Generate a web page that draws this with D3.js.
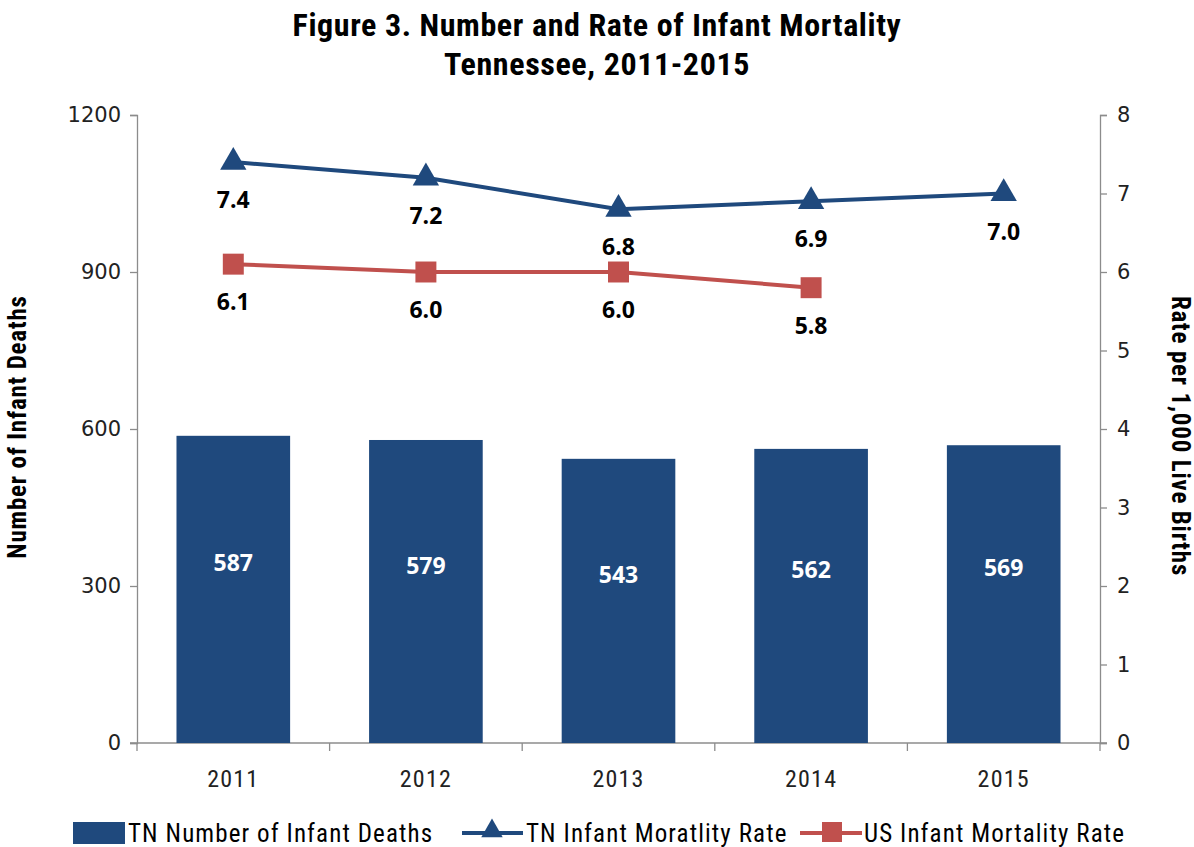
<!DOCTYPE html>
<html lang="en">
<head>
<meta charset="UTF-8">
<title>Infant Mortality</title>
<script src="https://d3js.org/d3.v7.min.js"></script>
<style>
  body { margin: 0; background: #fff; }
  .narrow { font-family: "Liberation Sans Narrow", "Arial Narrow", "Roboto Condensed", "Open Sans", sans-serif; }
  .axis text { font-family: "DejaVu Sans", Verdana, sans-serif; font-size: 21px; fill: #222; }
  .axis path, .axis line { stroke: #8c8c8c; stroke-width: 1.3px; }
</style>
</head>
<body>
<script>
var years = ["2011", "2012", "2013", "2014", "2015"];
var tnDeaths = [587, 579, 543, 562, 569];
var tnRate = [7.4, 7.2, 6.8, 6.9, 7.0];
var usRate = [6.1, 6.0, 6.0, 5.8];
var leftTicks = [0, 300, 600, 900, 1200];
var rightTicks = [0, 1, 2, 3, 4, 5, 6, 7, 8];

var W = 1194, H = 847;
var margin = {top: 115, left: 137, right: 94, bottom: 104};
var width = W - margin.left - margin.right;
var height = H - margin.top - margin.bottom;

var blue = "#1f497d", red = "#c0504d";

var svg = d3.select("body").append("svg")
    .attr("width", W).attr("height", H);

// title
svg.append("text").attr("class", "narrow")
    .attr("x", 597).attr("y", 36).attr("text-anchor", "middle")
    .style("font-size", "32px").style("font-weight", "bold").style("letter-spacing", "0.6px")
    .text("Figure 3. Number and Rate of Infant Mortality");
svg.append("text").attr("class", "narrow")
    .attr("x", 597).attr("y", 75).attr("text-anchor", "middle")
    .style("font-size", "32px").style("font-weight", "bold").style("letter-spacing", "0.6px")
    .text("Tennessee, 2011-2015");

var chart = svg.append("g")
    .attr("transform", "translate(" + margin.left + "," + margin.top + ")");

var x = d3.scaleBand().domain(years).range([0, width]).paddingInner(0.41).paddingOuter(0.205);
var xb = d3.scaleBand().domain(years).range([0, width]);
var yL = d3.scaleLinear().domain([0, 1200]).range([height, 0]);
var yR = d3.scaleLinear().domain([0, 8]).range([height, 0]);

// axes
chart.append("g").attr("class", "axis")
    .call(d3.axisLeft(yL).tickValues(leftTicks).tickFormat(d3.format("d"))
        .tickSize(7).tickPadding(9).tickSizeOuter(7));
chart.append("g").attr("class", "axis")
    .attr("transform", "translate(" + width + ",0)")
    .call(d3.axisRight(yR).tickValues(rightTicks).tickSize(7).tickPadding(10).tickSizeOuter(7));

// x axis with ticks at band boundaries
var xAxisG = chart.append("g").attr("class", "axis")
    .attr("transform", "translate(0," + height + ")");
xAxisG.append("line").attr("x1", -7).attr("x2", width + 7);
xAxisG.selectAll(".bt").data(years.concat(["end"])).enter().append("line")
    .attr("x1", function(d, i) { return i * xb.step(); })
    .attr("x2", function(d, i) { return i * xb.step(); })
    .attr("y1", 0).attr("y2", 8);
xAxisG.selectAll(".xl").data(years).enter().append("text")
    .attr("x", function(d) { return xb(d) + xb.bandwidth() / 2; })
    .attr("y", 44).attr("text-anchor", "middle")
    .style("font-family", "'Liberation Sans Narrow', 'Arial Narrow', 'Roboto Condensed', sans-serif")
    .style("font-size", "24px").style("letter-spacing", "1.2px")
    .text(function(d) { return d; });

// axis titles
svg.append("text").attr("class", "narrow")
    .attr("transform", "translate(26,427) rotate(-90)")
    .attr("text-anchor", "middle")
    .style("font-size", "25px").style("font-weight", "bold").style("letter-spacing", "0.8px")
    .text("Number of Infant Deaths");
svg.append("text").attr("class", "narrow")
    .attr("transform", "translate(1172,436) rotate(90)")
    .attr("text-anchor", "middle")
    .style("font-size", "25px").style("font-weight", "bold").style("letter-spacing", "0.8px")
    .text("Rate per 1,000 Live Births");

// bars
chart.selectAll(".bar").data(tnDeaths).enter().append("rect")
    .attr("x", function(d, i) { return x(years[i]); })
    .attr("width", x.bandwidth())
    .attr("y", function(d) { return yL(d); })
    .attr("height", function(d) { return height - yL(d); })
    .attr("fill", blue);

chart.selectAll(".barlab").data(tnDeaths).enter().append("text")
    .attr("x", function(d, i) { return x(years[i]) + x.bandwidth() / 2; })
    .attr("y", function(d) { return (yL(d) + height) / 2 - 26; })
    .attr("dy", "0.35em").attr("text-anchor", "middle")
    .style("font-family", "'Open Sans', sans-serif")
    .style("font-size", "23px").style("font-weight", "bold").style("fill", "#fff")
    .text(function(d) { return d; });

var cx = function(d, i) { return xb(years[i]) + xb.bandwidth() / 2; };
var line = d3.line().x(cx).y(function(d) { return yR(d); });

function drawSeries(data, color, shape) {
    chart.append("path").datum(data)
        .attr("d", line).attr("fill", "none")
        .attr("stroke", color).attr("stroke-width", 4);
    chart.selectAll(null).data(data).enter().append("path")
        .attr("transform", function(d, i) { return "translate(" + cx(d, i) + "," + yR(d) + ")"; })
        .attr("d", d3.symbol().type(shape).size(shape === d3.symbolSquare ? 440 : 300))
        .attr("fill", color);
    chart.selectAll(null).data(data).enter().append("text")
        .attr("x", cx)
        .attr("y", function(d) { return yR(d) + 38; })
        .attr("dy", "0.35em").attr("text-anchor", "middle")
        .style("font-family", "'Open Sans', sans-serif")
        .style("font-size", "23px").style("font-weight", "bold").style("fill", "#000")
        .text(function(d) { return d3.format(".1f")(d); });
}
drawSeries(tnRate, blue, d3.symbolTriangle);
drawSeries(usRate, red, d3.symbolSquare);

// legend
var leg = svg.append("g").attr("class", "narrow")
    .style("font-size", "25px").style("letter-spacing", "1.1px");
leg.append("rect").attr("x", 73).attr("y", 822).attr("width", 52).attr("height", 22).attr("fill", blue);
leg.append("text").attr("x", 128).attr("y", 842).text("TN Number of Infant Deaths");
leg.append("line").attr("x1", 462).attr("x2", 523).attr("y1", 833).attr("y2", 833)
    .attr("stroke", blue).attr("stroke-width", 4);
leg.append("path").attr("transform", "translate(492,831)")
    .attr("d", d3.symbol().type(d3.symbolTriangle).size(200)).attr("fill", blue);
leg.append("text").attr("x", 526).attr("y", 842).text("TN Infant Moratlity Rate");
leg.append("line").attr("x1", 800).attr("x2", 862).attr("y1", 833).attr("y2", 833)
    .attr("stroke", red).attr("stroke-width", 4);
leg.append("rect").attr("x", 822).attr("y", 822).attr("width", 20).attr("height", 20).attr("fill", red);
leg.append("text").attr("x", 864).attr("y", 842).text("US Infant Mortality Rate");
</script>
</body>
</html>
